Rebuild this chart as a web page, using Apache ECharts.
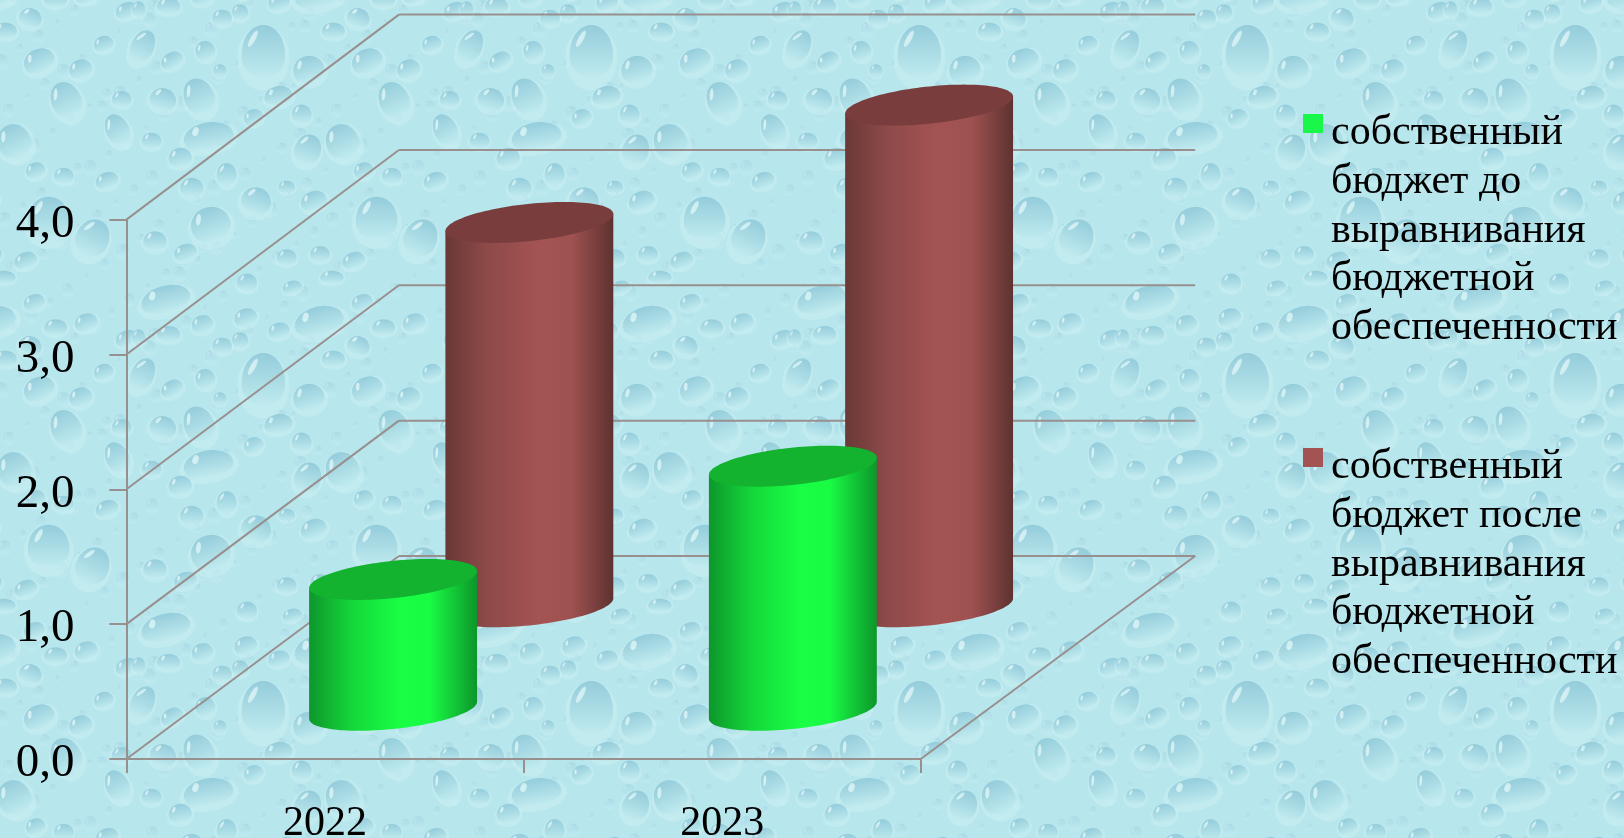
<!DOCTYPE html>
<html>
<head>
<meta charset="utf-8">
<style>html,body{margin:0;padding:0;width:1624px;height:838px;overflow:hidden}#c{width:1624px;height:838px}</style>
<script src="https://cdn.jsdelivr.net/npm/echarts@6/dist/echarts.min.js"></script>
</head>
<body>
<div id="c"></div>
<script>
const categories = ['2022', '2023'];
const seriesBefore = [0.97, 1.81];
const seriesAfter = [2.85, 3.72];
const yTicks = [0, 1, 2, 3, 4];
const nameBefore = 'собственный\nбюджет до\nвыравнивания\nбюджетной\nобеспеченности';
const nameAfter = 'собственный\nбюджет после\nвыравнивания\nбюджетной\nобеспеченности';

// oblique projection of the depth axis, in pixels
const DEPTH_X = 272.5, DEPTH_Y = 203;
const AXIS_COLOR = '#98908e';
const AXIS_W = 2;

// water-drop wallpaper: [x, y, w, h, tiltDeg] in 3x crop units, wraps every 328 px
const bigDrops = [
 [790,150,130,170,0],[925,205,95,85,-15],[430,135,70,105,25],[515,180,70,50,-30],[615,150,60,60,-20],
 [595,285,90,115,-25],[625,405,150,85,-10],[490,295,80,70,15],[540,470,70,60,-10],[455,420,60,50,0],
 [680,520,60,70,0],[575,560,70,60,0],[630,670,120,110,-20],[770,600,90,85,20],[940,600,80,60,-20],
 [925,445,80,95,20],[1025,420,100,110,-25],[905,340,60,60,0],[760,350,60,50,-25],[835,285,85,60,-10],
 [1100,180,95,75,-25],[1225,205,70,60,-20],[860,560,50,40,0],[1090,510,60,50,-20],[1175,525,60,50,0],
 [465,720,70,60,0],[555,755,70,50,-20],[1000,90,70,50,0],[1130,650,125,135,0],[1180,295,90,115,-25],
 [720,35,50,50,0],[960,760,60,50,0],[860,770,60,50,0],[1060,780,70,50,-20],[660,210,40,40,0],
 [1334,385,70,100,-25],[1294,130,60,50,-20],[1349,295,60,50,0],[1304,540,70,50,-20],[1264,710,100,120,25],[1364,30,70,50,-20],
 [496,895,150,85,-15],[741,845,60,55,0],[876,860,60,40,-15],[606,970,65,55,-20],[736,950,70,55,-20],
 [836,990,65,50,-15],[956,960,150,90,-15],[506,1000,70,50,0],[666,1035,60,50,0],[1086,905,65,50,-20],
 [1151,980,70,50,0],[1241,965,70,55,-20],[1076,1035,70,60,20],[416,1010,40,50,0],[996,830,70,40,0]
];
const smallCount = 120;

function makeTile() {
  const S = 328, cv = document.createElement('canvas');
  cv.width = S; cv.height = S;
  const g = cv.getContext('2d');
  g.fillStyle = '#b8e6ed';
  g.fillRect(0, 0, S, S);
  function drop(x, y, w, h, tilt, faint) {
    for (const ox of [-S, 0, S]) for (const oy of [-S, 0, S]) {
      const cx = x + ox, cy = y + oy;
      if (cx < -w || cx > S + w || cy < -h || cy > S + h) continue;
      g.save();
      g.translate(cx, cy);
      g.rotate((tilt || 0) * Math.PI / 180);
      g.globalAlpha = faint ? 0.42 : 0.92;
      g.fillStyle = 'rgba(205,241,244,0.5)';
      g.beginPath(); g.ellipse(0, h * 0.14, w * 0.6, h * 0.58, 0, 0, 7); g.fill();
      const lg = g.createLinearGradient(0, -h / 2, 0, h / 2);
      lg.addColorStop(0, '#8ec8d8');
      lg.addColorStop(0.5, '#a6d9e3');
      lg.addColorStop(1, '#c0ebef');
      g.fillStyle = lg;
      g.beginPath();
      g.moveTo(-w / 2, h * 0.1);
      g.bezierCurveTo(-w / 2, -h * 0.62, w / 2, -h * 0.62, w / 2, h * 0.1);
      g.bezierCurveTo(w / 2, h * 0.62, -w / 2, h * 0.62, -w / 2, h * 0.1);
      g.fill();
      g.fillStyle = 'rgba(232,250,250,0.75)';
      g.beginPath();
      g.ellipse(-w * 0.24, -h * 0.2, Math.max(0.8, w * 0.06), Math.max(1.2, h * 0.16), 0.5, 0, 7);
      g.fill();
      g.restore();
    }
  }
  // small droplets on a golden-ratio lattice
  for (let i = 0; i < smallCount; i++) {
    const x = ((i * 0.618034) % 1) * S, y = ((i * 0.754878) % 1) * S;
    const r = 6 + (i % 5) * 1.8;
    drop(x, y, r, r * 1.05, 0, true);
  }
  bigDrops.forEach(d => drop(((d[0] / 3) % S), ((d[1] / 3) % S), d[2] / 3, d[3] / 3, d[4]));
  return cv;
}

const chart = echarts.init(document.getElementById('c'), null, { renderer: 'canvas' });

function lineEl(a, b) {
  return { type: 'line', shape: { x1: a[0], y1: a[1], x2: b[0], y2: b[1] },
    style: { stroke: AXIS_COLOR, lineWidth: AXIS_W } };
}

// back wall, left wall and floor outline, from the axis scales
function renderWalls(params, api) {
  const v = api.value(0);
  const left = api.coord([0, v]); // category centre
  const halfBand = api.size([1, 0])[0] / 2;
  const x0 = left[0] - halfBand, x1 = x0 + halfBand * 4, y = left[1];
  const dy = DEPTH_Y + v * 0.5;
  const kids = [
    lineEl([x0, y], [x0 + DEPTH_X, y - dy]),
    lineEl([x0 + DEPTH_X, y - dy], [x1 + DEPTH_X + 2, y - dy])
  ];
  if (v === 0) kids.push(lineEl([x1, y], [x1 + DEPTH_X + 2, y - dy]));
  return { type: 'group', children: kids };
}

function cylinder(depthX, depthY, stops, capColor) {
  return function (params, api) {
    const idx = api.value(0);
    const base = api.coord([idx, 0]);
    const top = api.coord([idx, api.value(1)]);
    const cx = base[0] + DEPTH_X * depthX + idx * 2.6;
    const dy = DEPTH_Y * depthY;
    const yb = base[1] - dy, yt = top[1] - dy;
    const A = 76.4, B = 34.8, D = 20.5;
    const pt = (t, yc) => [cx + A * Math.cos(t) + B * Math.sin(t), yc - D * Math.sin(t)];
    const t0 = Math.atan2(B, A); // right-most point
    const body = [];
    body.push(pt(t0 + Math.PI, yt));
    for (let i = 0; i <= 60; i++) body.push(pt(t0 + Math.PI + i / 60 * Math.PI, yb));
    body.push(pt(t0, yt));
    const cap = [];
    for (let i = 0; i < 120; i++) cap.push(pt(i / 120 * Math.PI * 2, yt));
    return {
      type: 'group',
      children: [
        { type: 'polygon', shape: { points: body },
          style: { fill: { type: 'linear', x: 0, y: 0, x2: 1, y2: 0, colorStops: stops } } },
        { type: 'polygon', shape: { points: cap }, style: { fill: capColor } }
      ]
    };
  };
}

const greenStops = [
  { offset: 0, color: '#0e962c' }, { offset: 0.25, color: '#14d63a' },
  { offset: 0.55, color: '#19ff45' }, { offset: 0.72, color: '#19fb44' }, { offset: 1, color: '#0d962b' }
];
const brownStops = [
  { offset: 0, color: '#6a3836' }, { offset: 0.25, color: '#8d4a49' },
  { offset: 0.55, color: '#a35352' }, { offset: 0.75, color: '#9f5251' }, { offset: 1, color: '#5e3230' }
];

const serif = '"Liberation Serif", "Times New Roman", serif';
const legendIcon = 'path://M0 0H0M0 5H20V24H0ZM23 243H23';

chart.setOption({
  animation: false,
  backgroundColor: { image: makeTile(), repeat: 'repeat' },
  grid: { left: 126.4, right: 1624 - 920.7, top: 219.6, bottom: 838 - 759, outerBoundsMode: 'none' },
  xAxis: {
    type: 'category', data: categories, boundaryGap: true,
    axisLine: { lineStyle: { color: AXIS_COLOR, width: AXIS_W } },
    axisTick: { show: true, length: 14, lineStyle: { color: AXIS_COLOR, width: AXIS_W } },
    axisLabel: { color: '#000', fontFamily: serif, fontSize: 42, margin: 44, interval: 0 },
    splitLine: { show: false }
  },
  yAxis: {
    type: 'value', min: 0, max: 4, interval: 1,
    axisLine: { show: true, lineStyle: { color: AXIS_COLOR, width: AXIS_W } },
    axisTick: { show: true, length: 17, lineStyle: { color: AXIS_COLOR, width: AXIS_W } },
    axisLabel: { color: '#000', fontFamily: serif, fontSize: 47, margin: 52,
      formatter: v => '{n|' + v.toFixed(1).replace('.', ',') + '}',
      rich: { n: { color: '#000', fontFamily: serif, fontSize: 47, padding: [10, 0, 0, 0] } } },
    splitLine: { show: false }
  },
  legend: {
    orient: 'vertical', left: 1303, top: 109, padding: 0,
    itemWidth: 23, itemHeight: 243, itemGap: 91, selectedMode: false,
    icon: legendIcon,
    textStyle: { color: '#000', fontFamily: serif, fontSize: 42, lineHeight: 48.6 },
    data: [nameBefore, nameAfter]
  },
  series: [
    { type: 'custom', name: 'walls', silent: true, z: 1, coordinateSystem: 'cartesian2d',
      renderItem: renderWalls, data: yTicks.map(t => [t]), encode: { y: 0 }, clip: false },
    { type: 'custom', name: nameAfter, z: 2, coordinateSystem: 'cartesian2d', clip: false,
      itemStyle: { color: '#a35352' },
      renderItem: cylinder(0.75, 0.75, brownStops, '#7a3d3d'),
      data: seriesAfter.map((v, i) => [i, v]), encode: { x: 0, y: 1 } },
    { type: 'custom', name: nameBefore, z: 3, coordinateSystem: 'cartesian2d', clip: false,
      itemStyle: { color: '#19f74a' },
      renderItem: cylinder(0.25, 0.24, greenStops, '#13b32f'),
      data: seriesBefore.map((v, i) => [i, v]), encode: { x: 0, y: 1 } }
  ]
});
</script>
</body>
</html>
